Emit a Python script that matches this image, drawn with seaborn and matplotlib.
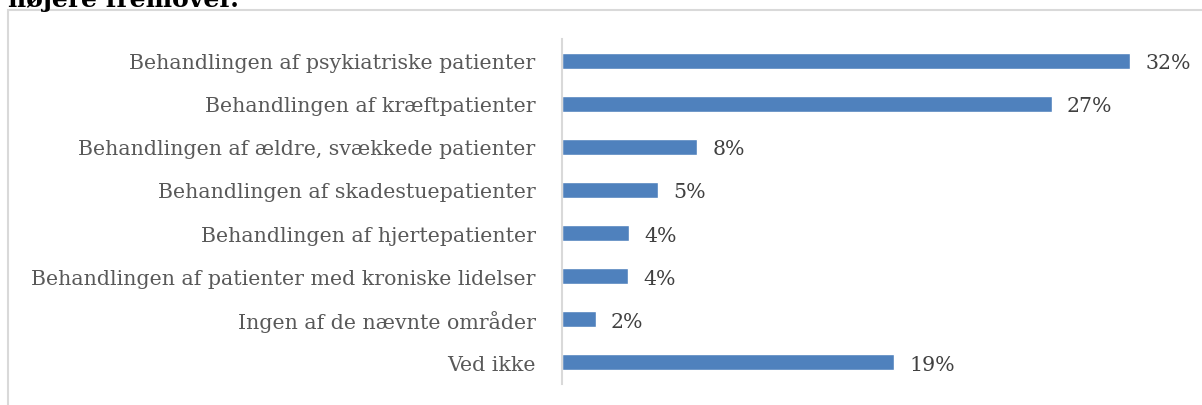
import matplotlib
matplotlib.use("Agg")
import matplotlib.pyplot as plt
import seaborn as sns
import pandas as pd
from matplotlib.patches import Rectangle

# Data
categories = [
    "Behandlingen af psykiatriske patienter",
    "Behandlingen af kræftpatienter",
    "Behandlingen af ældre, svækkede patienter",
    "Behandlingen af skadestuepatienter",
    "Behandlingen af hjertepatienter",
    "Behandlingen af patienter med kroniske lidelser",
    "Ingen af de nævnte områder",
    "Ved ikke",
]
values = [32.0, 27.6, 7.6, 5.4, 3.8, 3.7, 1.9, 18.7]
value_labels = ["32%", "27%", "8%", "5%", "4%", "4%", "2%", "19%"]

df = pd.DataFrame({"område": categories, "andel": values})

sns.set_style("white")
plt.rcParams["font.family"] = ["DejaVu Serif"]

fig = plt.figure(figsize=(12.02, 4.06), dpi=100)
ax = fig.add_axes([0.4676, 0.0517, 0.5166, 0.8498])

sns.barplot(data=df, x="andel", y="område", color="#4F81BD", saturation=1,
            width=0.37, ax=ax)

ax.set_xlim(0, 35)
ax.set_ylim(7.5, -0.5)
ax.set_xlabel("")
ax.set_ylabel("")
ax.set_xticks([])
for s in ["top", "right", "bottom"]:
    ax.spines[s].set_visible(False)
ax.spines["left"].set_color("#D9D9D9")
ax.spines["left"].set_linewidth(1.5)
ax.tick_params(axis="y", length=0, pad=19, labelsize=14.8, labelcolor="#595959")
for t in ax.get_yticklabels():
    t.set_verticalalignment("center_baseline")

for i, (v, lab) in enumerate(zip(values, value_labels)):
    ax.annotate(lab, (v, i), xytext=(11, 0), textcoords="offset points",
                va="center_baseline", ha="left", fontsize=14.8, color="#404040")

# outer frame (only left and top visible in the crop)
fig.patches.append(Rectangle((8 / 1202, -0.1), 1.2, 1 - 11 / 406 + 0.1,
                             transform=fig.transFigure, fill=False,
                             edgecolor="#D9D9D9", linewidth=1.5))

# cut-off question text above the frame
fig.text(8 / 1202, 1 - 7 / 406, "højere fremover.", fontsize=18,
         fontweight="bold", color="black", ha="left", va="baseline")

fig.savefig("out.png", dpi=100)
